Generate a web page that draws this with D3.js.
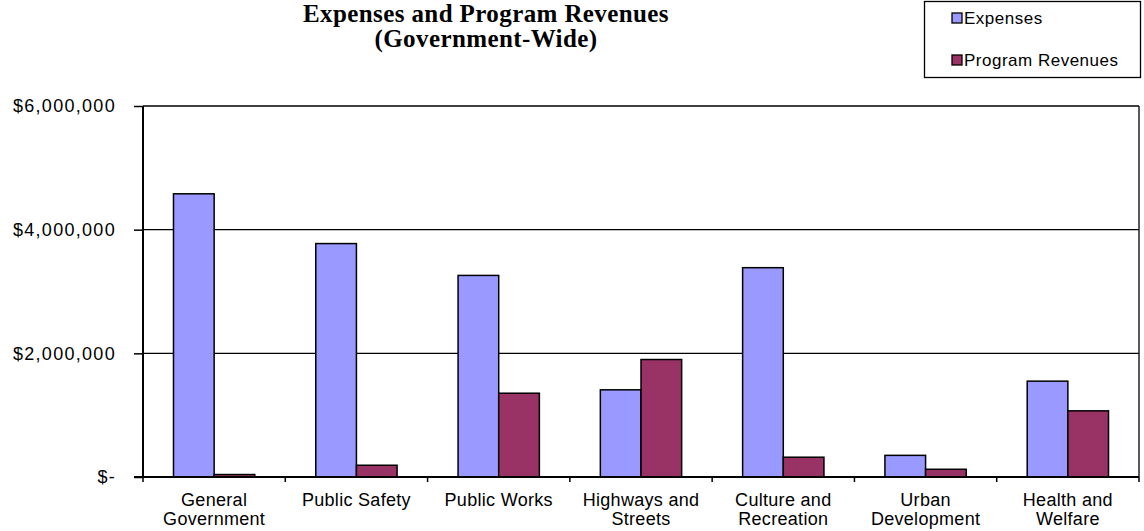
<!DOCTYPE html>
<html>
<head>
<meta charset="utf-8">
<script src="https://cdn.jsdelivr.net/npm/d3@7"></script>
<style>
  body { margin: 0; background: #fff; }
  text { font-family: "Liberation Sans", Arial, sans-serif; }
</style>
</head>
<body>
<div id="chart"></div>
<script>
var categories = ['General Government', 'Public Safety', 'Public Works', 'Highways and Streets',
  'Culture and Recreation', 'Urban Development', 'Health and Welfare'];
var categoryLines = [['General', 'Government'], ['Public Safety'], ['Public Works'], ['Highways and', 'Streets'],
  ['Culture and', 'Recreation'], ['Urban', 'Development'], ['Health and', 'Welfare']];
var expenses = [4580000, 3775000, 3260000, 1410000, 3385000, 350000, 1550000];
var revenues = [40000, 190000, 1355000, 1900000, 320000, 125000, 1070000];
var seriesNames = ['Expenses', 'Program Revenues'];
var yTicks = [0, 2000000, 4000000, 6000000];
var titleLines = ['Expenses and Program Revenues', '(Government-Wide)'];

(function(){
  var width = 1144,
      height = 531;
  var margin = {top: 106, right: 5, bottom: 54, left: 143};
  var colors = ['#9999ff', '#993366'];

  var svg = d3.select('#chart')
    .append('svg')
    .attr('width', width)
    .attr('height', height);

  var x0 = d3.scaleBand()
    .domain(categories)
    .range([margin.left, width - margin.right])
    .paddingInner(1.5 / 3.5)
    .paddingOuter(0.75 / 3.5);

  var x1 = d3.scaleBand()
    .domain(seriesNames)
    .range([0, x0.bandwidth()]);

  var y = d3.scaleLinear()
    .domain([0, 6000000])
    .range([height - margin.bottom, margin.top]);

  var fmt = function(v){ return v === 0 ? '$-' : '$' + d3.format(',')(v) };

  // gridlines
  svg.append('g')
    .selectAll('line')
    .data(yTicks.slice(1))
    .enter().append('line')
    .attr('x1', margin.left)
    .attr('x2', width - margin.right)
    .attr('y1', function(d){ return y(d) })
    .attr('y2', function(d){ return y(d) })
    .attr('stroke', '#000')
    .attr('stroke-width', 1.3);

  // right border
  svg.append('line')
    .attr('x1', width - margin.right).attr('x2', width - margin.right)
    .attr('y1', margin.top).attr('y2', height - margin.bottom)
    .attr('stroke', '#000').attr('stroke-width', 1.3);

  // bars
  var rows = categories.map(function(c, i){
    return {cat: c, values: [{s: seriesNames[0], v: expenses[i]}, {s: seriesNames[1], v: revenues[i]}]}
  });

  var groups = svg.selectAll('.cat')
    .data(rows)
    .enter().append('g')
    .attr('class', 'cat')
    .attr('transform', function(d){ return 'translate(' + x0(d.cat) + ',0)' });

  groups.selectAll('rect')
    .data(function(d){ return d.values })
    .enter().append('rect')
    .attr('x', function(d){ return x1(d.s) })
    .attr('width', x1.bandwidth())
    .attr('y', function(d){ return y(d.v) })
    .attr('height', function(d){ return y(0) - y(d.v) })
    .attr('fill', function(d, i){ return colors[i] })
    .attr('stroke', '#000')
    .attr('stroke-width', 1.5);

  // y axis
  var yAxis = svg.append('g')
    .attr('transform', 'translate(' + margin.left + ',0)')
    .call(d3.axisLeft(y).tickValues(yTicks).tickFormat(fmt).tickSize(9).tickPadding(18));
  yAxis.select('.domain').attr('stroke-width', 2).attr('d', 'M0,' + margin.top + 'V' + (height - margin.bottom));
  yAxis.selectAll('.tick line').attr('stroke-width', 1.5);
  yAxis.selectAll('text')
    .attr('font-size', 18)
    .attr('fill', '#000')
    .style('letter-spacing', '1.3px')
    .style('font-family', '"Liberation Sans", Arial, sans-serif');

  // x axis: ticks at category boundaries
  var step = x0.step();
  var bounds = d3.range(categories.length + 1).map(function(i){ return margin.left + i * step });
  var xAxis = svg.append('g');
  xAxis.append('line')
    .attr('x1', margin.left - 9).attr('x2', width - margin.right)
    .attr('y1', y(0)).attr('y2', y(0))
    .attr('stroke', '#000').attr('stroke-width', 2);
  xAxis.selectAll('.xt')
    .data(bounds)
    .enter().append('line')
    .attr('x1', function(d){ return d }).attr('x2', function(d){ return d })
    .attr('y1', y(0)).attr('y2', y(0) + 5)
    .attr('stroke', '#000').attr('stroke-width', 1.5);

  var labels = xAxis.selectAll('.xl')
    .data(categories)
    .enter().append('text')
    .attr('text-anchor', 'middle')
    .attr('font-size', 18)
    .attr('fill', '#000')
    .style('letter-spacing', '0.3px')
    .attr('x', function(d){ return x0(d) + x0.bandwidth() / 2 })
    .attr('y', 506);
  labels.selectAll('tspan')
    .data(function(d, i){ return categoryLines[i] })
    .enter().append('tspan')
    .attr('x', function(){ return this.parentNode.getAttribute('x') })
    .attr('dy', function(d, i){ return i === 0 ? 0 : 19 })
    .text(function(d){ return d });

  // title
  svg.selectAll('.title')
    .data(titleLines)
    .enter().append('text')
    .attr('class', 'title')
    .attr('text-anchor', 'middle')
    .attr('font-size', 25)
    .attr('font-weight', 'bold')
    .attr('fill', '#000')
    .style('letter-spacing', '0.4px')
    .style('font-family', '"Liberation Serif", "Times New Roman", serif')
    .attr('x', 486)
    .attr('y', function(d, i){ return 22 + i * 25 })
    .text(function(d){ return d });

  // legend
  var legend = svg.append('g');
  legend.append('rect')
    .attr('x', 924.5).attr('y', 1.5)
    .attr('width', 216).attr('height', 76)
    .attr('fill', '#fff').attr('stroke', '#000').attr('stroke-width', 1.3);
  var items = legend.selectAll('.li')
    .data(seriesNames)
    .enter().append('g')
    .attr('transform', function(d, i){ return 'translate(952,' + (18 + i * 42) + ')' });
  items.append('rect')
    .attr('x', 0).attr('y', -5)
    .attr('width', 10).attr('height', 10)
    .attr('fill', function(d, i){ return colors[i] })
    .attr('stroke', '#000').attr('stroke-width', 1.3);
  items.append('text')
    .attr('x', 12).attr('y', 6)
    .attr('font-size', 17)
    .style('letter-spacing', '0.5px')
    .attr('fill', '#000')
    .text(function(d){ return d });
})()
</script>
</body>
</html>
